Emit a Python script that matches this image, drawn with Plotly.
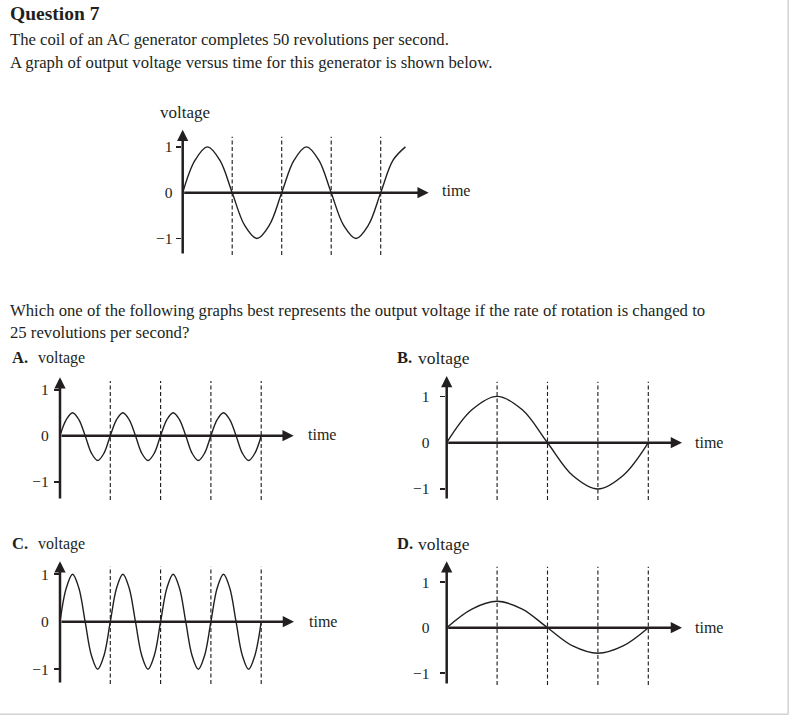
import plotly.graph_objects as go

W, H = 789, 716
INK = "#231f20"
SERIF = "Liberation Serif, Times New Roman, serif"

# ---------------- data ----------------
DASH_T = [10, 20, 30, 40]                      # dashed guide lines, ms
TICK_V = [-1, 0, 1]
TICK_TEXT = ["\u22121", "0", "1"]
MINOR_TICK_V = [-1, 1]

# original 50 rev/s generator
TOP_T = [0, 2.5, 5, 7.5, 10, 12.5, 15, 17.5, 20, 22.5, 25, 27.5, 30, 32.5,
         35, 37.5, 40, 42.5, 45]
TOP_V = [0, 0.71, 1, 0.71, 0, -0.71, -1, -0.71, 0, 0.71, 1, 0.71, 0, -0.71,
         -1, -0.71, 0, 0.71, 1]

# options A and C (four cycles)
FAST_T = [0, 1.25, 2.5, 3.75, 5, 6.25, 7.5, 8.75, 10, 11.25, 12.5, 13.75, 15,
          16.25, 17.5, 18.75, 20, 21.25, 22.5, 23.75, 25, 26.25, 27.5, 28.75,
          30, 31.25, 32.5, 33.75, 35, 36.25, 37.5, 38.75, 40]
A_V = [0, 0.35, 0.5, 0.35, 0, -0.38, -0.54, -0.38,
       0, 0.35, 0.5, 0.35, 0, -0.38, -0.54, -0.38,
       0, 0.35, 0.5, 0.35, 0, -0.38, -0.54, -0.38,
       0, 0.35, 0.5, 0.35, 0, -0.38, -0.54, -0.38, 0]
C_V = [0, 0.71, 1, 0.71, 0, -0.71, -1, -0.71,
       0, 0.71, 1, 0.71, 0, -0.71, -1, -0.71,
       0, 0.71, 1, 0.71, 0, -0.71, -1, -0.71,
       0, 0.71, 1, 0.71, 0, -0.71, -1, -0.71, 0]

# options B and D (one cycle)
SLOW_T = [0, 5, 10, 15, 20, 25, 30, 35, 40]
B_V = [0, 0.71, 1, 0.71, 0, -0.71, -1, -0.71, 0]
D_V = [0, 0.41, 0.58, 0.41, 0, -0.40, -0.56, -0.40, 0]

# ---------------- layout of the panels (pixels) ----------------
PANELS = [
    dict(t=TOP_T, v=TOP_V, x0=182.7, y0=192.7, kx=4.95, ky=45.8, xtip=431.7,
         ytip=126.7, ybot=255, dtop=136.7, gap=9, letter=None, lxy=None,
         vxy=(158.3, 112), vsize=17, txy=(440, 191)),
    dict(t=FAST_T, v=A_V, x0=60, y0=435.7, kx=5.03, ky=46, xtip=296.7,
         ytip=374.3, ybot=500, dtop=381, gap=10, letter="A.", lxy=(10, 357.5),
         vxy=(36, 357.5), vsize=16, txy=(306, 435)),
    dict(t=SLOW_T, v=B_V, x0=446.7, y0=442.7, kx=5.04, ky=46.3, xtip=685,
         ytip=373, ybot=500, dtop=381.7, gap=16, letter="B.", lxy=(395, 357.5),
         vxy=(416, 357.5), vsize=17.5, txy=(693, 442)),
    dict(t=FAST_T, v=C_V, x0=60, y0=621.7, kx=5.03, ky=47.5, xtip=297,
         ytip=558.3, ybot=684, dtop=566.7, gap=10, letter="C.", lxy=(10, 543.5),
         vxy=(36, 543.5), vsize=16, txy=(307, 621)),
    dict(t=SLOW_T, v=D_V, x0=446.7, y0=627.7, kx=5.04, ky=45.5, xtip=685,
         ytip=558.3, ybot=685, dtop=566.7, gap=16, letter="D.", lxy=(395, 543.5),
         vxy=(416, 543.5), vsize=17.5, txy=(693, 627)),
]

fig = go.Figure()
annotations = []
layout_axes = {}


def px_x(px):
    return px / W


def px_y(py):
    return 1 - py / H


for i, p in enumerate(PANELS, start=1):
    xa = "x" if i == 1 else f"x{i}"
    ya = "y" if i == 1 else f"y{i}"
    xkey = "xaxis" if i == 1 else f"xaxis{i}"
    ykey = "yaxis" if i == 1 else f"yaxis{i}"

    x0, y0, kx, ky = p["x0"], p["y0"], p["kx"], p["ky"]
    xr = [-0.05, (p["xtip"] + 6 - x0) / kx]
    yr = [(y0 - (p["ybot"] + 3)) / ky, (y0 - (p["ytip"] - 6)) / ky]

    layout_axes[xkey] = dict(
        domain=[px_x(x0 + kx * xr[0]), px_x(x0 + kx * xr[1])],
        range=xr, anchor=ya, visible=False, fixedrange=True,
    )
    layout_axes[ykey] = dict(
        domain=[px_y(y0 - ky * yr[0]), px_y(y0 - ky * yr[1])],
        range=yr, anchor=xa, showgrid=False, zeroline=False, showline=False,
        tickmode="array", tickvals=TICK_V, ticktext=TICK_TEXT, ticks="",
        ticklabelstandoff=p["gap"],
        tickfont=dict(family=SERIF, size=15.5, color=INK),
        minor=dict(tickmode="array", tickvals=MINOR_TICK_V, ticks="outside",
                   ticklen=5, tickwidth=1.8, tickcolor=INK, showgrid=False),
        fixedrange=True,
    )

    # dashed guide lines
    d_top = (y0 - p["dtop"]) / ky
    d_bot = (y0 - p["ybot"]) / ky
    dx, dy = [], []
    for t in DASH_T:
        dx += [t, t, None]
        dy += [d_bot, d_top, None]
    fig.add_trace(go.Scatter(x=dx, y=dy, xaxis=xa, yaxis=ya, mode="lines",
                             line=dict(color=INK, width=1.15, dash="4px,2.5px"),
                             hoverinfo="skip", showlegend=False))

    # the voltage curve
    fig.add_trace(go.Scatter(x=p["t"], y=p["v"], xaxis=xa, yaxis=ya,
                             mode="lines",
                             line=dict(color=INK, width=1.4, shape="spline",
                                       smoothing=1),
                             hoverinfo="skip", showlegend=False))

    # axes with arrow heads
    ytip = (y0 - (p["ytip"] + 3)) / ky
    xtip = (p["xtip"] - 3 - x0) / kx
    arrow = dict(showarrow=True, arrowhead=2, arrowsize=0.9, arrowwidth=2.5,
                 arrowcolor=INK, text="", standoff=0,
                 xref=xa, yref=ya, axref=xa, ayref=ya)
    annotations.append(dict(arrow, x=0, y=ytip, ax=0, ay=d_bot))
    annotations.append(dict(arrow, x=xtip, y=0, ax=0, ay=0))

    # panel texts
    if p["letter"]:
        annotations.append(dict(
            text=f"<b>{p['letter']}</b>", x=px_x(p["lxy"][0]),
            y=px_y(p["lxy"][1]), xref="paper", yref="paper",
            xanchor="left", yanchor="middle", showarrow=False,
            font=dict(family=SERIF, size=16.5, color=INK)))
    annotations.append(dict(
        text="voltage", x=px_x(p["vxy"][0]), y=px_y(p["vxy"][1]),
        xref="paper", yref="paper", xanchor="left", yanchor="middle",
        showarrow=False, font=dict(family=SERIF, size=p["vsize"], color=INK)))
    annotations.append(dict(
        text="time", x=px_x(p["txy"][0]), y=px_y(p["txy"][1]),
        xref="paper", yref="paper", xanchor="left", yanchor="middle",
        showarrow=False, font=dict(family=SERIF, size=16, color=INK)))

# question text
TEXT_LINES = [
    ("<b>Question 7</b>", 14, 19.5),
    ("The coil of an AC generator completes 50 revolutions per second.", 39.5, 16.7),
    ("A graph of output voltage versus time for this generator is shown below.", 62.5, 16.7),
    ("Which one of the following graphs best represents the output voltage if the rate of rotation is changed to", 310.5, 16.7),
    ("25 revolutions per second?", 332.5, 16.7),
]
for txt, py, size in TEXT_LINES:
    annotations.append(dict(
        text=txt, x=px_x(8), y=px_y(py), xref="paper", yref="paper",
        xanchor="left", yanchor="middle", showarrow=False,
        font=dict(family=SERIF, size=size, color=INK)))

fig.update_layout(
    width=W, height=H, autosize=False,
    margin=dict(l=0, r=0, t=0, b=0, pad=0),
    paper_bgcolor="white", plot_bgcolor="rgba(0,0,0,0)",
    showlegend=False, annotations=annotations,
    shapes=[
        dict(type="line", xref="paper", yref="paper", x0=788.2 / W, x1=788.2 / W,
             y0=px_y(714.3), y1=1, line=dict(color="#d2d2d2", width=1.5)),
        dict(type="line", xref="paper", yref="paper", x0=0, x1=788.2 / W,
             y0=px_y(714.3), y1=px_y(714.3), line=dict(color="#d2d2d2", width=1.5)),
    ],
    **layout_axes,
)

fig.write_html("out.html", config=dict(displayModeBar=False, staticPlot=True),
               post_script="document.body.style.margin='0';")
